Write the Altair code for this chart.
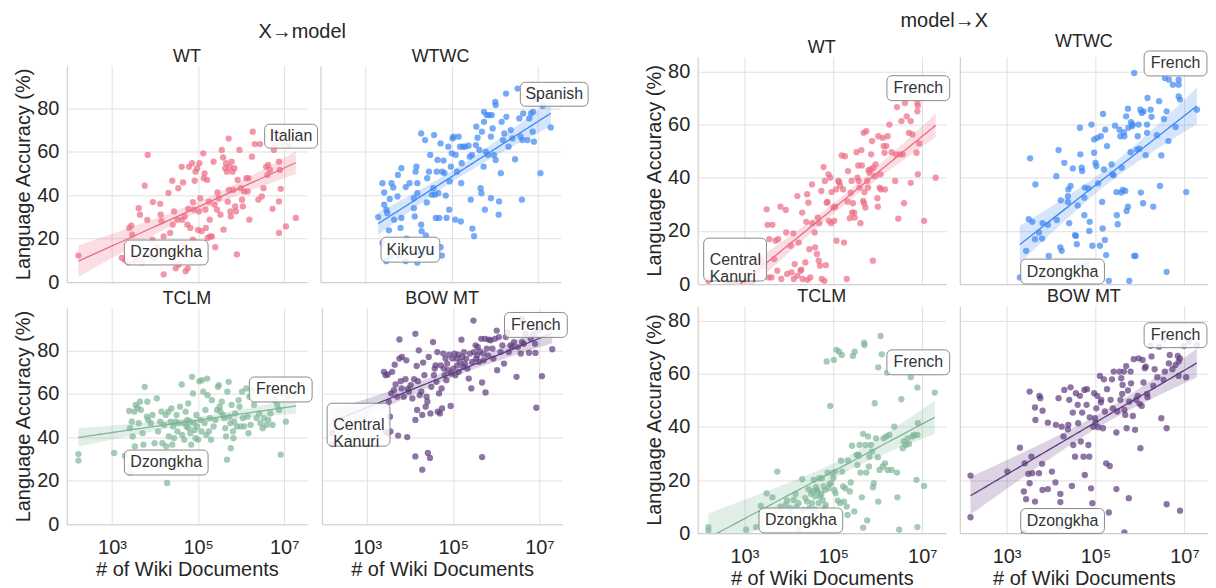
import altair as alt
import numpy as np
import pandas as pd

FONT = "Liberation Sans"

# ---------------- data: (log10 # of wiki documents, language accuracy %) ----------------
WT_X2M = [(2.22,12.2),(3.23,11.1),(3.3,10),(3.38,9),(3.4,24.9),(3.45,26),(3.47,21.8),(3.52,9.5),(3.57,10.4),(3.62,34),
(3.65,31),(3.7,9),(3.76,44.3),(3.83,58.5),(3.82,28.6),(3.9,12),(3.95,36.8),(3.94,19.5),(3.98,11),(4.05,16),
(4.12,36),(4.13,31),(4.15,28),(4.2,21),(4.2,3.5),(4.25,14.2),(4.31,41),(4.35,22.6),(4.4,46.6),(4.41,26.4),
(4.44,32.5),(4.44,14.2),(4.48,6.3),(4.52,28.7),(4.54,43.2),(4.55,8),(4.62,53),(4.63,28.7),(4.65,45.8),(4.67,17.3),
(4.69,30.2),(4.71,5),(4.75,26.4),(4.76,6.3),(4.77,33.6),(4.79,53),(4.82,24.9),(4.86,54.7),(4.88,36.8),(4.88,19.5),
(4.9,33.3),(4.92,46.6),(4.94,50.8),(4.98,52.4),(5.0,24),(5.02,32.5),(5.03,54.7),(5.05,38.6),(5.08,23.4),(5.12,59.2),
(5.13,47.8),(5.15,50),(5.17,33.3),(5.18,24.9),(5.21,47),(5.22,20.3),(5.25,37),(5.27,28.7),(5.28,21),(5.32,21),
(5.36,55.4),(5.38,35.6),(5.4,16),(5.44,33.3),(5.45,41.2),(5.48,38.6),(5.52,31),(5.55,60.8),(5.58,57.3),(5.59,24.1),
(5.63,52.4),(5.65,54.7),(5.67,50.8),(5.69,37),(5.71,66),(5.72,42.4),(5.73,53),(5.75,32.5),(5.76,30.2),(5.78,55.4),
(5.8,50.8),(5.82,42.4),(5.84,52.4),(5.86,34.8),(5.88,32.5),(5.9,12.7),(5.92,47),(5.96,60.8),(5.99,43.2),(6.02,37.9),
(6.04,34.8),(6.07,41.7),(6.12,47.8),(6.15,41.7),(6.17,47.8),(6.19,28.7),(6.25,57.7),(6.27,69.2),(6.32,63.5),(6.4,37.9),
(6.44,63.5),(6.48,39.4),(6.52,43.2),(6.58,53),(6.61,49.3),(6.63,53.9),(6.67,51.6),(6.73,33.7),(6.76,60.8),(6.78,63),
(6.82,68.4),(6.88,55.4),(6.88,37.1),(6.88,22.6),(6.9,51.6),(6.92,42.9),(6.94,63.8),(7.04,25.6),(7.1,63),(7.27,29.5)]

WTWC_X2M = [(3.29,29.9),(3.39,45.5),(3.43,41.2),(3.43,35.6),(3.48,33.3),(3.5,31.8),(3.54,23.8),(3.56,38.2),(3.6,45.5),(3.64,43.5),
(3.66,28.7),(3.74,39.4),(3.75,49.3),(3.81,24.9),(3.83,29.5),(3.83,52.4),(3.93,43.7),(3.95,20),(4.02,45.5),(4.12,38.6),
(4.12,34),(4.14,30.2),(4.16,50.8),(4.18,53.1),(4.2,45.5),(4.2,40.9),(4.29,26.4),(4.29,68.4),(4.3,23.4),(4.38,65.3),
(4.4,21.5),(4.42,36.6),(4.43,47.8),(4.47,50.8),(4.5,58.5),(4.54,40.2),(4.57,43.2),(4.59,67.6),(4.61,40.2),(4.63,29.5),
(4.65,50.8),(4.67,56.2),(4.69,40.9),(4.71,29.5),(4.74,63.8),(4.78,50.8),(4.81,55.9),(4.83,50.1),(4.86,39.8),(4.88,29.5),
(4.92,62.3),(4.94,33.3),(4.95,46.3),(4.98,53.1),(5.0,59.2),(5.02,66.1),(5.04,66.9),(5.08,28.7),(5.09,58.5),(5.12,50.8),
(5.16,66.9),(5.19,62.3),(5.21,27.9),(5.22,45.5),(5.23,54.7),(5.26,62.3),(5.31,62.3),(5.39,62.7),(5.42,57.7),(5.44,37.9),
(5.47,58.5),(5.48,24.6),(5.52,21.1),(5.56,63),(5.57,71.5),(5.6,66.4),(5.64,60.8),(5.67,43.2),(5.69,40.9),(5.7,69.2),
(5.74,53.1),(5.75,78.3),(5.75,73.7),(5.77,33.3),(5.79,60),(5.81,76.8),(5.84,58.5),(5.87,76.8),(5.91,66.9),(5.91,38.6),
(5.93,76.8),(5.95,70.7),(5.98,58.5),(6.01,82.9),(6.02,81.4),(6.02,56.2),(6.09,31),(6.1,37.1),(6.14,50.1),(6.16,73.7),
(6.19,65.3),(6.22,68.4),(6.26,86.7),(6.27,76),(6.32,62.3),(6.37,69.9),(6.41,66.1),(6.47,56.5),(6.53,89),(6.57,75.3),
(6.6,66.9),(6.63,37.9),(6.64,65.3),(6.66,77.6),(6.76,65.3),(6.8,75.3),(6.84,77.6),(6.88,69.2),(6.89,78.3),(6.91,64.6),
(6.94,84.4),(7.06,50.1),(7.11,81.1),(7.3,71.1),(3.39,18),(3.48,9.6),(3.58,11.9),(3.78,11.9),(3.93,9.6),(4.2,8.9),
(4.28,12.7),(4.47,13.4),(4.74,16),(4.77,12.2)]

TCLM_X2M = [(2.22,32.3),(2.22,29.3),(3.05,32.8),(3.3,31.5),(3.4,52.1),(3.42,44.2),(3.46,47.2),(3.48,40.4),(3.52,51.8),(3.53,35.8),
(3.55,54.9),(3.59,53.6),(3.62,46.5),(3.65,56.4),(3.67,52.6),(3.71,41.9),(3.73,36.6),(3.76,63.2),(3.81,49.5),(3.82,56.4),
(3.84,48),(3.9,46.5),(3.94,50.3),(3.99,37.3),(4.04,57.9),(4.07,42.7),(4.12,47.2),(4.15,51.8),(4.17,37.3),(4.21,45.7),
(4.25,50.3),(4.26,35.8),(4.28,19),(4.31,51.8),(4.32,40.4),(4.36,47.2),(4.38,53.3),(4.4,36.6),(4.42,45),(4.44,39.6),
(4.48,47.2),(4.5,50.3),(4.52,42.7),(4.55,46.5),(4.58,54.1),(4.62,64.3),(4.63,41.1),(4.67,46.5),(4.68,38.9),(4.71,51.8),
(4.73,45),(4.75,48),(4.77,55.6),(4.78,44.2),(4.81,47.2),(4.82,41.9),(4.84,36.6),(4.86,67.8),(4.88,60.2),(4.9,46.5),
(4.92,43.4),(4.94,39.6),(4.96,50.3),(4.98,45),(5.0,38.9),(5.03,65.8),(5.05,48),(5.08,42.7),(5.09,66.3),(5.12,61),
(5.15,46.5),(5.17,52.6),(5.19,41.1),(5.21,67),(5.22,59.4),(5.25,42.7),(5.27,48.8),(5.3,38.9),(5.32,57.1),(5.36,45),
(5.4,48),(5.44,52.6),(5.46,63.2),(5.48,64),(5.5,54.1),(5.52,51.8),(5.55,56.4),(5.58,50.3),(5.61,48.8),(5.63,44.2),
(5.65,40.4),(5.67,29.7),(5.68,61),(5.71,65.5),(5.73,49.5),(5.75,46.5),(5.76,35),(5.78,54.9),(5.81,42.7),(5.82,39.6),
(5.84,47.2),(5.86,51),(5.9,45),(5.94,57.1),(5.96,54.1),(5.99,45),(6.02,61),(6.04,48.8),(6.07,45),(6.12,62.5),
(6.15,49.5),(6.17,41.9),(6.19,58.7),(6.22,45.7),(6.25,61.7),(6.3,54.9),(6.36,48.8),(6.42,51),(6.45,46.5),(6.5,44.2),
(6.53,48.8),(6.59,45.7),(6.63,48),(6.68,51),(6.73,45.7),(6.78,57.1),(6.84,54.9),(6.88,52.6),(6.92,32),(6.96,60.2),
(7.04,47.2),(7.09,58.7),(7.27,60.2),(3.44,26.7),(3.42,23.6),(4.2,27.4)]

BOW_X2M = [(2.19,36.9),(2.19,41.9),(3.39,70.1),(3.43,68.6),(3.48,68.9),(3.5,56.4),(3.53,49.5),(3.54,42.7),(3.56,60.2),(3.58,70.1),
(3.62,61.7),(3.64,73.4),(3.66,64.3),(3.7,58.7),(3.72,40.8),(3.75,85),(3.75,76.2),(3.78,65.8),(3.8,62.5),(3.81,77),
(3.85,58.7),(3.89,66.7),(3.91,75.4),(3.93,40.1),(3.95,62.2),(3.97,61),(4.01,64),(4.05,57.9),(4.09,66.7),(4.12,87.6),
(4.12,48),(4.12,31.2),(4.15,72.8),(4.16,52.6),(4.18,65.8),(4.2,80),(4.22,59.4),(4.26,61),(4.28,50.3),(4.28,25.1),
(4.3,74.4),(4.33,68.6),(4.36,54.1),(4.38,58.7),(4.4,56.4),(4.41,32.8),(4.43,77),(4.46,30.5),(4.47,51),(4.49,63.2),
(4.53,83.8),(4.55,68.6),(4.57,71.6),(4.59,73.1),(4.61,65.5),(4.63,79.2),(4.64,51.8),(4.67,60.2),(4.69,51),(4.71,73.1),
(4.73,62.5),(4.74,53.3),(4.77,78.5),(4.78,71.6),(4.8,68.6),(4.82,76.2),(4.84,66.3),(4.86,73.9),(4.88,70.9),(4.91,78),
(4.94,54.4),(4.95,69.3),(4.98,76.2),(5.0,71.6),(5.03,78.5),(5.05,68.6),(5.08,76.2),(5.09,73.1),(5.12,78),(5.13,70.1),
(5.16,74.7),(5.19,84.9),(5.21,77),(5.23,72.4),(5.25,79.2),(5.27,73.9),(5.3,76.2),(5.33,71.6),(5.36,67),(5.39,78.5),
(5.42,62.5),(5.44,74.7),(5.47,93.7),(5.48,79.2),(5.52,82.3),(5.53,76.2),(5.56,77.7),(5.57,81.5),(5.6,74.7),(5.62,79.5),
(5.65,85.3),(5.67,65.2),(5.67,30.9),(5.7,78.5),(5.71,75.4),(5.74,85.3),(5.75,60.6),(5.78,80.8),(5.81,77.7),(5.83,84.9),
(5.87,84.6),(5.91,80.8),(5.93,76.2),(5.97,85.3),(6.01,89.1),(6.02,70.9),(6.06,86.1),(6.1,79.2),(6.14,82.3),(6.18,73.9),
(6.22,86.1),(6.26,88.4),(6.29,79.2),(6.33,82.3),(6.37,81.5),(6.41,83.8),(6.47,67.8),(6.5,81.5),(6.57,78.5),(6.6,83.8),
(6.64,83),(6.68,87.6),(6.76,78.9),(6.8,85.3),(6.86,87.3),(6.9,83),(6.91,78.8),(6.93,53.6),(6.97,89.6),(7.06,68.1),
(7.3,80.5),(6.6,94.5),(3.48,41.9),(3.43,42.5)]

WT_M2X = [(2.19,1.2),(3.37,9.4),(3.42,8.1),(3.44,6.9),(3.5,28.1),(3.52,22.3),(3.54,2.5),(3.56,16.9),(3.61,2.5),(3.63,22.3),
(3.67,9.4),(3.7,16.3),(3.74,5),(3.76,16.9),(3.81,29.1),(3.83,1.9),(3.93,27.9),(3.94,19.4),(3.96,3.8),(4.04,14.4),
(4.06,4.4),(4.1,19.1),(4.11,1.9),(4.13,7.5),(4.19,33.1),(4.19,3.1),(4.22,15.6),(4.26,5),(4.28,5.4),(4.3,26.9),
(4.31,1.9),(4.37,8.1),(4.39,23.4),(4.41,33.8),(4.42,1.6),(4.44,30.6),(4.46,13.1),(4.48,2.5),(4.52,37.5),(4.53,22.9),
(4.58,19.4),(4.59,13.8),(4.63,11.3),(4.65,25),(4.67,8.8),(4.68,22.9),(4.7,6.9),(4.73,35),(4.74,1.9),(4.78,44),
(4.8,1.2),(4.81,38.8),(4.83,7.1),(4.85,30.6),(4.87,30.9),(4.89,41.3),(4.9,23.8),(4.93,40),(4.95,22.9),(4.96,34.6),
(5.0,28.8),(5.02,23.8),(5.04,29.1),(5.06,35.6),(5.07,16.3),(5.11,38.8),(5.13,38.4),(5.15,37.1),(5.19,48.4),(5.22,35.6),
(5.24,15.6),(5.26,48.1),(5.3,1.9),(5.32,31),(5.33,42.5),(5.37,24.8),(5.39,34.4),(5.41,38.8),(5.42,26.9),(5.44,30.4),
(5.47,26.9),(5.48,25),(5.52,49.6),(5.54,40),(5.56,44.6),(5.57,38.8),(5.59,36.3),(5.61,22.9),(5.63,50.4),(5.64,44.6),
(5.67,31.3),(5.68,56.9),(5.69,30.4),(5.7,34.6),(5.72,28.8),(5.74,57.5),(5.76,38.8),(5.78,36.3),(5.79,42.9),(5.81,41.9),
(5.84,43.1),(5.85,48.8),(5.87,53.8),(5.89,8.8),(5.9,43.8),(5.93,40.6),(5.95,45),(5.99,32.3),(6.0,29.1),(6.01,55.6),
(6.04,36.3),(6.06,41.3),(6.07,35.6),(6.11,55),(6.13,51.9),(6.15,49.4),(6.16,35.6),(6.19,51.9),(6.22,55.6),(6.26,60),
(6.31,49.6),(6.39,38.8),(6.41,48.8),(6.43,66.6),(6.46,24.6),(6.5,48.8),(6.53,61.3),(6.56,48.8),(6.59,30.4),(6.61,68.1),
(6.65,63.1),(6.7,56.9),(6.74,61.3),(6.74,38.1),(6.78,56.3),(6.87,49.4),(6.89,65),(6.89,68.1),(6.9,41.3),(6.9,67.1),
(6.93,52.9),(7.04,23.8),(7.11,72.1),(7.3,40)]

WTWC_M2X = [(3.3,2.5),(3.44,12.5),(3.5,24.4),(3.53,47.3),(3.58,23.4),(3.64,16.9),(3.65,37.5),(3.73,19.4),(3.8,17.1),(3.81,22.9),
(3.84,2.5),(3.93,22.3),(3.95,10.6),(4.12,40.6),(4.13,24.1),(4.17,50.4),(4.21,13.8),(4.22,31.5),(4.24,12.5),(4.3,45.6),
(4.38,33.1),(4.38,30.9),(4.39,35.6),(4.41,22.9),(4.44,36.9),(4.49,43.5),(4.54,18.4),(4.56,18.1),(4.58,15),(4.6,29.6),
(4.63,6.9),(4.66,48.8),(4.69,43.8),(4.7,42.5),(4.75,32.5),(4.75,25.9),(4.76,36.3),(4.8,7.5),(4.84,36),(4.86,20),
(4.87,23.4),(4.91,60),(4.93,14.4),(4.97,54.4),(4.97,49.4),(5.0,45.6),(5.02,44.4),(5.04,55),(5.06,37.9),(5.1,14.4),
(5.12,55.6),(5.15,30.9),(5.16,20.9),(5.17,64),(5.19,43.1),(5.21,16.6),(5.22,58.1),(5.24,10.9),(5.26,51.9),(5.3,1.2),
(5.36,45),(5.38,41.3),(5.41,40.9),(5.44,59.6),(5.47,34.6),(5.48,25.9),(5.5,22.5),(5.54,58.1),(5.56,55.6),(5.58,34.4),
(5.59,43.8),(5.61,35.4),(5.64,57.1),(5.65,55.6),(5.67,35),(5.69,63.1),(5.7,27.5),(5.73,66),(5.73,29.1),(5.74,58.8),
(5.76,1.2),(5.79,49.6),(5.8,60.9),(5.82,59.4),(5.84,60),(5.87,10.6),(5.9,10.6),(5.93,50.6),(5.95,55.6),(5.97,60),
(5.99,50.9),(6.01,65.6),(6.02,34.4),(6.04,64.4),(6.07,30.4),(6.08,65),(6.13,48.5),(6.16,56.9),(6.16,60),(6.17,70),
(6.24,65.6),(6.26,62.9),(6.3,29.1),(6.38,56),(6.43,68.8),(6.45,36.9),(6.48,48.4),(6.54,62.1),(6.56,77.5),(6.6,65),
(6.6,4.6),(6.65,76.9),(6.64,53.8),(6.74,75),(6.8,59.1),(6.87,76.9),(6.87,75),(6.87,70.6),(6.9,69.4),(7.04,34.6),
(7.1,81.3),(7.28,65.6),(5.87,79.4),(4.65,58.8)]

TCLM_M2X = [(2.19,2.3),(2.19,1),(3.04,1.3),(3.26,2.3),(3.37,10.3),(3.5,15),(3.63,13.5),(3.74,23.2),(3.81,10),(3.93,10.7),
(3.96,12.3),(4.04,9.4),(4.11,12.5),(4.15,14.8),(4.17,10),(4.22,11.3),(4.24,1.5),(4.3,20.3),(4.33,8.8),(4.37,13.2),
(4.41,11.9),(4.44,16.6),(4.46,9.4),(4.5,14.8),(4.52,11.3),(4.54,15.7),(4.56,20.1),(4.58,9),(4.59,13.8),(4.61,17.3),
(4.63,16.3),(4.65,15.7),(4.67,11.3),(4.68,20.7),(4.7,13.8),(4.73,14.8),(4.74,20.7),(4.76,12.5),(4.78,17.6),(4.8,9.4),
(4.81,16.3),(4.83,10.7),(4.85,64.6),(4.87,22.8),(4.89,16.9),(4.91,18.4),(4.93,47.9),(4.95,18.8),(4.98,22.6),(5.0,20.7),
(5.01,65.2),(5.02,16.3),(5.04,23.2),(5.05,15),(5.07,69),(5.1,12.3),(5.13,68.3),(5.15,11.3),(5.17,27.3),(5.19,67.1),
(5.2,23.2),(5.22,17.6),(5.24,11.9),(5.27,16.9),(5.3,10),(5.32,6.9),(5.33,27.3),(5.37,15.7),(5.39,19.1),(5.42,32.9),
(5.44,66.7),(5.47,8.2),(5.48,68.3),(5.52,29.5),(5.54,25.7),(5.56,29.1),(5.57,29.5),(5.59,33.2),(5.61,22.8),(5.64,13.5),
(5.67,37.4),(5.67,2.1),(5.69,71.7),(5.7,70.8),(5.72,33.2),(5.74,22.8),(5.76,4.8),(5.78,36.4),(5.8,25.1),(5.81,28.8),
(5.84,33.2),(5.87,30.7),(5.89,17.3),(5.91,18.8),(5.93,48.9),(5.96,35.7),(6.0,28.6),(6.01,11.9),(6.01,62.4),(6.04,23.8),
(6.06,74.2),(6.09,67.3),(6.11,25.1),(6.13,35.7),(6.16,26.3),(6.19,36.4),(6.21,60.4),(6.22,23.8),(6.26,37),(6.31,23.8),
(6.37,40.1),(6.43,22.8),(6.44,13.5),(6.48,1.3),(6.53,50.4),(6.56,32),(6.58,34.5),(6.63,33.2),(6.67,35.7),(6.7,33.6),
(6.74,58.7),(6.78,36.4),(6.81,37),(6.87,20.1),(6.89,37),(6.89,54.8),(6.89,2.3),(6.9,41.4),(7.04,17.8),(7.11,62.4),
(7.28,52.9)]

BOW_M2X = [(2.19,21.7),(2.19,6),(3.02,23.2),(3.3,32.2),(3.39,15.7),(3.41,26.3),(3.44,12.8),(3.49,22.3),(3.52,53.3),(3.52,18.8),
(3.56,28.8),(3.58,22.6),(3.64,11.9),(3.64,47.3),(3.65,42.6),(3.73,22.6),(3.74,51.7),(3.76,50.8),(3.8,26.1),(3.81,16.3),
(3.81,46.1),(3.93,16.6),(3.93,41.6),(4.02,23.2),(4.1,19.1),(4.11,40.8),(4.17,50.8),(4.21,14.8),(4.21,11.7),(4.24,40.1),
(4.28,36.4),(4.3,53.9),(4.38,39.1),(4.39,40.8),(4.41,50.2),(4.44,54.9),(4.47,17.8),(4.49,45.4),(4.5,33.2),(4.54,28.8),
(4.56,52.7),(4.6,48.3),(4.61,41.4),(4.65,51.7),(4.67,34.5),(4.7,45.4),(4.73,28.8),(4.75,53.9),(4.76,21.9),(4.8,48.3),
(4.81,54.2),(4.84,33.2),(4.86,28.8),(4.87,43.6),(4.9,16.9),(4.93,11.3),(4.95,40.1),(4.97,52.7),(4.99,43.3),(5.0,41.6),
(5.02,47),(5.04,51.7),(5.06,39.9),(5.1,59.2),(5.12,49.2),(5.13,50.2),(5.17,39.5),(5.19,57.9),(5.21,45.8),(5.24,26.3),
(5.26,54.2),(5.3,7.8),(5.32,25.3),(5.34,50.2),(5.37,57.9),(5.39,47),(5.41,60.8),(5.47,37.9),(5.47,16.6),(5.49,45.8),
(5.54,60.8),(5.56,50.2),(5.58,58.3),(5.6,52.4),(5.61,55.8),(5.64,60.8),(5.65,46.4),(5.65,0.3),(5.67,44.5),(5.69,62.9),
(5.7,39.5),(5.73,53.7),(5.75,13.2),(5.76,49.5),(5.79,60.8),(5.8,56.4),(5.84,44.1),(5.86,65.5),(5.89,38.9),(5.91,50.2),
(5.95,51.7),(5.97,65.8),(5.99,48.7),(6.01,32),(6.04,47.9),(6.06,65.2),(6.08,56.7),(6.11,62.1),(6.13,62.7),(6.16,52.4),
(6.17,51.2),(6.24,70.5),(6.26,66.5),(6.3,55.4),(6.33,61.7),(6.39,58.7),(6.43,70.2),(6.48,43.3),(6.53,57.7),(6.56,60.8),
(6.6,39.5),(6.6,10.9),(6.65,63.9),(6.67,67.1),(6.73,61.7),(6.8,63.3),(6.85,66.7),(6.87,59.2),(6.87,64.6),(6.9,65.8),
(6.9,8.5),(6.99,70.5),(7.04,58.7),(7.1,72.1),(7.28,70.8),(6.54,73),(3.39,0),(4.21,2.5)]

# annotated languages: (name, log10 docs, accuracy)
LABELS_X2M = {
    "WT": [("Dzongkha", 4.26, 13.6), ("Italian", 7.16, 67.1)],
    "WTWC": [("Kikuyu", 4.04, 14.9), ("Spanish", 7.38, 86.4)],
    "TCLM": [("Dzongkha", 4.26, 28.4), ("French", 6.92, 62.0)],
    "BOW MT": [("Central\nKanuri", 2.80, 45.8), ("French", 6.92, 91.7)],
}
LABELS_M2X = {
    "WT": [("Central\nKanuri", 2.79, 9.2), ("French", 6.91, 73.7)],
    "WTWC": [("Dzongkha", 4.26, 4.7), ("French", 6.80, 83.0)],
    "TCLM": [("Dzongkha", 4.27, 4.8), ("French", 6.91, 64.3)],
    "BOW MT": [("Dzongkha", 4.26, 4.6), ("French", 6.80, 74.5)],
}

X_TICKS = [3, 5, 7]
Y_TICKS = [0, 20, 40, 60, 80]

# ---------------- styles ----------------
COLORS = {"WT": "#ec6b82", "WTWC": "#3d87f3", "TCLM": "#7db595", "BOW MT": "#5e3b7e"}
BOX = {"Dzongkha": (84, 25), "Italian": (53, 24), "Spanish": (68, 24), "Kikuyu": (59, 25),
       "French": (63, 25), "Central\nKanuri": (63, 43)}
XDOM = [1.95, 7.53]
TEXT_COLOR = "#262626"
AX_FS = 20


def fit_band(df):
    e = df["e"].to_numpy()
    y = df["acc"].to_numpy()
    n = len(e)
    b, a = np.polyfit(e, y, 1)
    grid = np.linspace(e.min(), e.max(), 80)
    pred = a + b * grid
    resid = y - (a + b * e)
    s = np.sqrt((resid ** 2).sum() / (n - 2))
    sxx = ((e - e.mean()) ** 2).sum()
    se = s * np.sqrt(1.0 / n + (grid - e.mean()) ** 2 / sxx)
    return pd.DataFrame({"e": grid, "fit": pred, "lo": pred - 1.98 * se, "hi": pred + 1.98 * se})


def panel(name, pts, labels, w, h, ydom, show_x, show_y):
    color = COLORS[name]
    df = pd.DataFrame(pts, columns=["e", "acc"])
    fit = fit_band(df)
    xs = alt.Scale(domain=XDOM, nice=False, zero=False)
    ys = alt.Scale(domain=ydom, nice=False, zero=False)
    x_axis = alt.Axis(values=X_TICKS, labels=show_x,
                      labelExpr="datum.value == 3 ? '10³' : datum.value == 5 ? '10⁵' : '10⁷'",
                      title="# of Wiki Documents" if show_x else None,
                      labelPadding=13 if show_x else 0, titlePadding=2)
    y_axis = alt.Axis(values=Y_TICKS, labels=show_y,
                      title="Language Accuracy (%)" if show_y else None,
                      labelPadding=8, titlePadding=3)
    band = alt.Chart(fit).mark_area(color=color, opacity=0.22, clip=True).encode(
        x=alt.X("e:Q", scale=xs, axis=x_axis),
        y=alt.Y("lo:Q", scale=ys, axis=y_axis), y2="hi:Q")
    line = alt.Chart(fit).mark_line(color=color, strokeWidth=1.3, clip=True).encode(
        x="e:Q", y="fit:Q")
    dots = alt.Chart(df).mark_circle(color=color, size=40, opacity=0.7, clip=True).encode(
        x="e:Q", y="acc:Q")
    layers = [band, line, dots]
    for text, le, ly in labels:
        bw, bh = BOX[text]
        ldf = pd.DataFrame({"e": [le], "acc": [ly], "t": [text]})
        rect = alt.Chart(ldf).mark_rect(width=bw, height=bh, fill="white", fillOpacity=0.85,
                                        stroke="#8a8a8a", strokeWidth=1, cornerRadius=5).encode(
            x="e:Q", y="acc:Q")
        if "\n" in text:
            txt = alt.Chart(ldf).mark_text(font=FONT, fontSize=16, color="#333333", lineBreak="\n",
                                           align="left", dx=-(bw / 2 - 6), baseline="middle",
                                           lineHeight=17)
        else:
            txt = alt.Chart(ldf).mark_text(font=FONT, fontSize=16, color="#333333",
                                           align="center", baseline="middle")
        layers += [rect, txt.encode(x="e:Q", y="acc:Q", text="t:N")]
    return alt.layer(*layers).properties(
        width=w, height=h,
        title=alt.TitleParams(name, fontSize=18, offset=0, anchor="middle", color=TEXT_COLOR,
                              fontWeight="normal", font=FONT))


def group(title, data, labels, w, h, ydom, col_gaps, row_gap, toff, tdx):
    names = ["WT", "WTWC", "TCLM", "BOW MT"]
    ps = [panel(nm, data[nm], labels[nm], w, h, ydom, show_x=(i >= 2), show_y=(i % 2 == 0))
          for i, nm in enumerate(names)]
    top = alt.hconcat(ps[0], ps[1], spacing=col_gaps[0])
    bot = alt.hconcat(ps[2], ps[3], spacing=col_gaps[1])
    return alt.vconcat(top, bot, spacing=row_gap).properties(
        title=alt.TitleParams(title, fontSize=20, offset=toff, anchor="middle", color=TEXT_COLOR,
                              fontWeight="normal", font=FONT, dx=tdx))


left = group("X→model",
             {"WT": WT_X2M, "WTWC": WTWC_X2M, "TCLM": TCLM_X2M, "BOW MT": BOW_X2M},
             LABELS_X2M, 241, 217, [0, 99.5], (1.5, 9), -2, 6, 1)
right = group("model→X",
              {"WT": WT_M2X, "WTWC": WTWC_M2X, "TCLM": TCLM_M2X, "BOW MT": BOW_M2X},
              LABELS_M2X, 249, 228, [0, 85.5], (9, 9), -6, 2, 18)

chart = alt.hconcat(left, right, spacing=55, center=True).properties(
    padding={"left": 5, "top": 1, "right": 0, "bottom": 0}
).configure(font=FONT).configure_title(
    fontWeight="normal", font=FONT, color=TEXT_COLOR
).configure_axis(
    labelFontSize=AX_FS, titleFontSize=AX_FS, labelColor=TEXT_COLOR, titleColor=TEXT_COLOR,
    titleFontWeight="normal", labelFont=FONT, titleFont=FONT,
    gridColor="#e0e0e0", gridWidth=1, domainColor="#d0d0d0", domainWidth=1.2, ticks=False
).configure_view(stroke=None)

chart.save("out.html", embed_options={"renderer": "svg", "actions": False})
